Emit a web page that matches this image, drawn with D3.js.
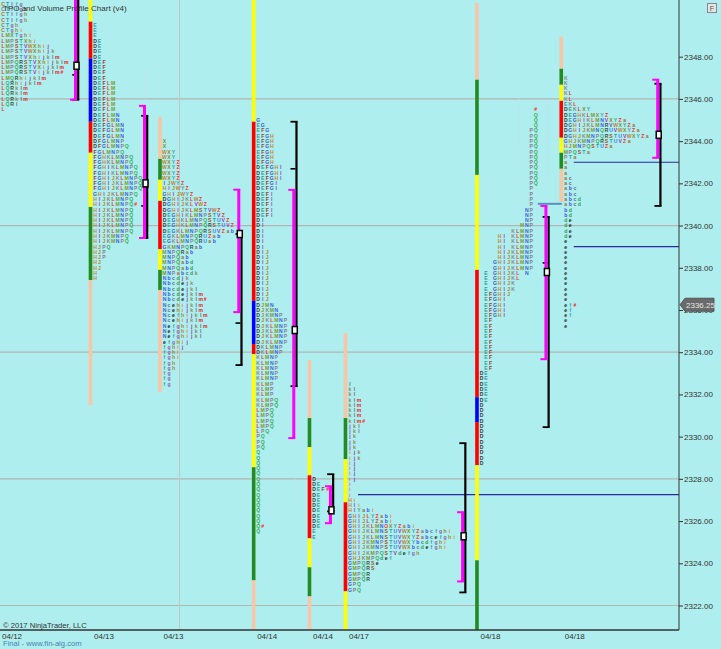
<!DOCTYPE html>
<html><head><meta charset="utf-8">
<script src="https://cdn.jsdelivr.net/npm/d3@7/dist/d3.min.js"></script>
<style>
html,body{margin:0;padding:0;background:#afeeee;}
svg{display:block;}
</style></head><body>
<svg id="chart" width="721" height="649"></svg>
<script>
// ---------------- DATA ----------------
const chartTitle = "TPO and Volume Profile Chart (v4)";
const priceTicks = [2322,2324,2326,2328,2330,2332,2334,2336,2338,2340,2342,2344,2346,2348];
const gridPrices = [2346,2340,2334,2328,2322];
const sessionDates = ["04/12","04/13","04/13","04/14","04/14","04/17","04/18","04/18"];
const sessionStartBar = [-0.33,19.99,35.34,56.04,68.37,76.32,105.37,123.99];
const sessionEndBar   = [16.68,31.92,52.75,64.90,73.00,102.20,120.60,145.30];
const timeGridBars = [39.65];
const lastPrice = 2336.25;

const profileTop = [2350.5,2349.5,2344.0,2345.0,2328.0,2332.5,2345.5,2347.0];

const tpoA = ["CTIfg","CTIfgh","CTIfgh","CTIfgh","CTgh","CTghi","LMXTghi","LMPSTXhi","LMPSTVWXhij","LMPSTVWXhijk","LMPSTVXhijklm","LMPQRSTVXhijklm","LMPQRSTVXijklm","LMPQRSTVijklm#","LMQRhijklm","LQRhijklm","LQRklm","LQRklm","LQRklm","LQRl","L"];
const tpoB = ["E","E","E","DE","DE","DE","DE","DEF","DEF","DEF","DEF","DEFLM","DEFLM","DEFLM","DEFLM","DEFLM","DEFLM","DEFLMN","DEFLMN","DEFGLMN","DEFGLMN","DEFGLMN","DFGLMNP","DFGLMNPQ","FGLMNPQ","FGHKLMNPQ","FGHKLMNPQ","FGHIKLMNPQ","FGHIKLMNPQ","FGHIJKLMNPQ","FGHIJKLMNPQ","FGHIJKLMNPQ","GHIJKLMNPQ","HIJKLMNPQ","HIJKLMNPQ#","HIJKLMNPQ","HIJKLMNPQ","HIJKLMNPQ","HIJKLMNPQ","HIJKLMNPQ","HIJKMNPQ","HIJKMNPQ","HJPQ","HJP","HJP","HJ","HJ","H","H"];
const tpoC = ["X","X","WXY","WXY","WXYZ","WXYZ","WXYZ","WXYZ","IJWYZ","HIJWYZ","GHIJWYZ","DGHIJKLWZ","DGHIJKLVWZ","DGHIJKLMSTVWZ","DEGHIKLMNPSTVZ","DEGHKLMNPQSTUVZ","DEGHKLMNPQRSTUVZ","DEGKLMNPQRSUVZab","EGKLMNPQRUZab","EGKLMNPQRUab","GKMNPQRab","MNPQRab","MNPQab","MNPQabd","MNPQabd","MNPabcdk","Nbcdjk","Nbcdejk","Nbcdejkl","Nbcdejklm","Nbcdejklm#","Ncehijklm","Ncehijklm","Ncefhijklm","Ncehijklm","Nefghijklm","Nefghijkl","Nefghijkl","efghij","fghij","fghi","fghi","fgh","fgh","fg","fg","fg"];
const tpoD = ["G","EG","EFG","EFGH","EFGH","EFGH","EFGH","EFGH","EFGH","DEFGHI","DEFGHI","DEFGHI","DEFGI","DEFGI","DEFI","DEFI","DEFI","DEFI","DEFI","DI","DI","DI","DI","DI","DI","DIJ","DIJ","DIJ","DIJ","DIJ","DIJ","DIJ","DIJ","DIJ","DIJ","DJMN","DJKMN","DJKMNP","DJKLMNP","DJKLMNP","DJKLMNP","DJKLMNP","DJKLMNP","DKLMNP","DKLMNP","KLMNP","KLMNP","KLMNP","KLMNP","KLMNP","KLMP","KLMP","KLMP","KLMPQ","KLMPQ","LMPQ","LMPQ","LMPQ","LMPQ","LPQ","PQ","PQ","PQ","Q","Q","Q","Q","Q","Q","Q","Q","Q","Q","Q","Q","Q","Q","Q#","Q"];
const tpoE = ["D","DE","DEF#","DE","DE","DE","DE","DE","DE","DE","E","E"];
const tpoF = ["l","kl","kl","klm","klm","klm","klm","klm#","jkl","jkl","jk","jk","jk","ijk","ijk","ij","ij","ij","ij","i","i","i","Hi","HIi","HIYabi","GHIJLYZabi","GHIJLYZabi","GHIJKLMNOXYZabi","GHIJKLMNSTUVWXYZabcfghi","GHIJKLMNSTUVWXYZabcefghi","GHIJKMNPSTUVWXYbcdfghi","GHIJKMNPSTUVWXbcdefghi","GHIJKMPQSTVdefgh","GHJKMPQdef","GMPQRSe","GMPQRS","GMPQR","GMPQR","GPQ","GPQ"];
const tpoG = ["            #","            Q","            Q","            Q","           PQ","           PQ","           PQ","           PQ","           PQ","           PQ","           PQ","           PQ","           PQ","           PQ","           PQ","           P","           P","           P","           P","          NP","          NP","          NP","         MNP","       KLMNP","    HI KLMNP","    HI KLMNP","    HI KLMNP","    HIJKLMNP","    HIJKLMNP","   GHIJKLMNP","   GHIJKLMNP"," E GHIJKL N"," E GHIJKL"," E GHIJK"," E GHIJK"," EFGHIJ"," EFGHI"," EFGHI"," EFGHI"," EFGHI"," EF"," EF"," EF"," EF"," EF"," EF"," EF"," EF"," EF"," EF","DE","DE","DE","DE","DE","DE","D","D","D","D","D","D","D","D","D","D","D","D"];
const tpoH = ["K","K","K","KL","KL","EKL","DEKLXY","DEGHKLMXYZ","DEGHIKLMNVXYZa","DGHIJKLMNRVWXYZa","DGHIJKMNQRUVWXYZa","DGHJKMNPQRSTUVWXYZa","GHJKMNPQRSTUVZa","HJMNPQSTUZa","MPQSTa","PTa","a","a","a","ac","ac","abc","abc","abcd","abcd","bd","bd","de","de","de","de","e","e","e","e","e","e","e","e","e","e","e","e","ef#","ef","ef","e","e"];

// period bars: price boundaries (top to bottom) and segment colours
const barBounds = [
  null,
  [2350.7,2349.66,2347.91,2344.92,2343.45,2340.88,2337.42,2331.49],
  [2345.15,2343.16,2342.17,2341.17,2338.89,2337.90,2336.95,2332.11],
  [2350.7,2344.92,2336.43,2334.39,2333.91,2328.55,2323.19,2320.8],
  [2333.63,2330.88,2329.50,2328.17,2325.18,2323.81,2322.43,2320.8],
  [2334.91,2330.88,2328.93,2326.89,2322.67,2320.8],
  [2350.56,2346.91,2342.40,2337.90,2331.87,2330.69,2328.65,2324.14,2320.8],
  [2348.95,2347.43,2346.67,2345.91,2344.16,2343.45,2342.69,2341.12]
];
const barColors = [
  null,
  ["Y","R","B","R","Y","G","P"],
  ["P","G","Y","R","Y","G","P"],
  ["Y","R","B","R","Y","G","P"],
  ["P","G","Y","R","Y","G","P"],
  ["P","G","Y","R","Y"],
  ["P","G","Y","R","B","R","Y","G"],
  ["P","G","Y","R","Y","G","P"]
];

const vaHigh    = [2351.0,2345.67,2341.70,2341.69,2327.65,2326.42,2340.93,2346.91];
const vaLow     = [2345.96,2339.41,2335.90,2329.93,2325.90,2323.14,2333.67,2343.21];
const rangeHigh = [2351.0,2345.20,2339.60,2344.92,2328.22,2329.69,2340.41,2346.72];
const rangeLow  = [2345.96,2339.41,2333.39,2332.39,2326.46,2322.62,2330.45,2340.93];
const pocPrice  = [2347.57,2342.0,2339.60,2335.05,2326.51,2325.28,2337.80,2344.30];
const midTicks  = [[2347.14],[2340.93],[2335.38],[2342.69],[],[],[2338.23],[]];

const nakedPocSession = [5,7,7];
const nakedPocPrice   = [2327.25,2343.0,2339.0];

// faint volume-profile hairlines: [sessionIndex, priceTop, priceBottom]
const hairSession = [1,6,6,7,7,4,5];
const hairTop     = [2347.4,2346.1,2331.9,2345.9,2345.9,2328.1,2331.8];
const hairBottom  = [2345.9,2343.9,2331.2,2342.1,2342.1,2326.9,2331.1];
const hairOffsetBar = [12.2,9.4,-2.7,-4.8,-3.2,-3.2,19.1];

// ---------------- STYLE ----------------
const W = 721, H = 649, plotR = 679, plotB = 630;
const periodColor = {Y:"#ffff00",R:"#ff0000",B:"#0000ff",G:"#228b22",P:"#f8c6a6"};
const letterColor = {
 C:"#b07040",D:"#3a3a3a",E:"#2e9e9e",F:"#9a3a2a",G:"#3f5fc0",H:"#c8843c",I:"#8a4fb0",J:"#a88a20",K:"#8a8a8a",
 L:"#e03a3a",M:"#7a9a2a",N:"#3a62e0",O:"#e04040",P:"#8a7a9a",Q:"#3cb060",R:"#3a5050",S:"#a05020",T:"#2aa0a0",
 U:"#3a80e0",V:"#9a3ac8",W:"#c0803a",X:"#8a8a20",Y:"#4a9aa0",Z:"#f03030",
 a:"#9a7030",b:"#3050f0",c:"#5a6a8a",d:"#2e9a50",e:"#1e1e1e",f:"#3aa0a0",g:"#9060b0",h:"#9a8a30",i:"#e08040",
 j:"#8040c0",k:"#8a8a5a",l:"#6a6a6a",m:"#e02020","#":"#ff2020"
};

// ---------------- SCALES ----------------
const y = d3.scaleLinear().domain([2322,2348]).range([605.5,56.7]);
const x = d3.scaleLinear().domain([0,150]).range([0,plotR]);
const colW = x(1)-x(0);

const svg = d3.select("#chart");
svg.append("rect").attr("width",W).attr("height",H).attr("fill","#afeeee");
svg.append("defs").append("clipPath").attr("id","plot")
  .append("rect").attr("x",0).attr("y",0).attr("width",plotR).attr("height",plotB);
const g = svg.append("g").attr("clip-path","url(#plot)");

// grid
g.selectAll("line.hg").data(gridPrices).join("line").attr("class","hg")
 .attr("x1",0).attr("x2",plotR).attr("y1",d=>y(d)).attr("y2",d=>y(d))
 .attr("stroke","#b4b4b4").attr("stroke-width",1.2);
g.selectAll("line.vg").data(timeGridBars).join("line").attr("class","vg")
 .attr("x1",d=>x(d)).attr("x2",d=>x(d)).attr("y1",0).attr("y2",plotB)
 .attr("stroke","#c4c4c4").attr("stroke-width",1);

// faint hairlines
hairSession.forEach((s,i)=>{
  const hx = x(sessionStartBar[s] + hairOffsetBar[i]);
  g.append("line").attr("x1",hx).attr("x2",hx).attr("y1",y(hairTop[i])).attr("y2",y(hairBottom[i]))
   .attr("stroke","#c8dcf4").attr("stroke-width",1).attr("stroke-dasharray","1,1");
});

// naked POC lines
nakedPocPrice.forEach((p,i)=>{
  const s = nakedPocSession[i];
  g.append("line").attr("x1",x(sessionStartBar[s])+12.5).attr("x2",plotR)
   .attr("y1",y(p)).attr("y2",y(p)).attr("stroke","#2a2aa0").attr("stroke-width",1.2);
});
// separator line between last sessions
g.append("line").attr("x1",x(118.8)).attr("x2",x(124.1))
 .attr("y1",y(2341.03)).attr("y2",y(2341.03)).attr("stroke","#5a90c0").attr("stroke-width",2);

// period bars
barBounds.forEach((b,k)=>{
  if(!b) return;
  const cx = x(sessionStartBar[k]);
  for(let i=0;i<b.length-1;i++){
    g.append("rect").attr("x",cx-1.8).attr("width",3.6)
     .attr("y",y(b[i])).attr("height",y(b[i+1])-y(b[i]))
     .attr("fill",periodColor[barColors[k][i]]);
  }
});

// TPO letters
const tpos = [tpoA,tpoB,tpoC,tpoD,tpoE,tpoF,tpoG,tpoH];
const lettersG = g.append("g").attr("font-family","Liberation Sans, Arial, sans-serif")
  .attr("font-weight","bold").attr("font-size","5.1px").attr("text-anchor","middle");
tpos.forEach((rows,k)=>{
  const x0 = x(sessionStartBar[k]) + 2.4;
  rows.forEach((row,i)=>{
    const py = y(profileTop[k] - i*0.25);
    [...row].forEach((ch,j)=>{
      if(ch===" ") return;
      lettersG.append("text").attr("x",x0 + j*colW + 2.1).attr("y",py+1.85)
        .attr("fill",letterColor[ch]||"#444").text(ch);
    });
  });
});

// brackets
sessionEndBar.forEach((eb,k)=>{
  const xm = x(eb);
  // black range bracket
  const xb = xm + 2.7;
  g.append("line").attr("x1",xb).attr("x2",xb).attr("y1",y(rangeHigh[k])).attr("y2",y(rangeLow[k]))
   .attr("stroke","#000").attr("stroke-width",2.2);
  [rangeHigh[k],rangeLow[k]].forEach(p=>{
    g.append("line").attr("x1",xb-6).attr("x2",xb+1.1).attr("y1",y(p)).attr("y2",y(p))
     .attr("stroke","#000").attr("stroke-width",1.8);
  });
  midTicks[k].forEach(p=>{
    g.append("line").attr("x1",xb-6).attr("x2",xb-1).attr("y1",y(p)).attr("y2",y(p))
     .attr("stroke","#000").attr("stroke-width",1.6);
  });
  // magenta value area bracket
  g.append("line").attr("x1",xm).attr("x2",xm).attr("y1",y(vaHigh[k])).attr("y2",y(vaLow[k]))
   .attr("stroke","#ff00ff").attr("stroke-width",3);
  [vaHigh[k],vaLow[k]].forEach(p=>{
    g.append("line").attr("x1",xm-5.5).attr("x2",xm+1.5).attr("y1",y(p)).attr("y2",y(p))
     .attr("stroke","#ff00ff").attr("stroke-width",2);
  });
  // POC box
  g.append("rect").attr("x",xm-1.5).attr("y",y(pocPrice[k])-3.5).attr("width",5).attr("height",7)
   .attr("fill","#ffffff").attr("stroke","#000").attr("stroke-width",1.5);
});

// axes
const axR = svg.append("g").attr("transform",`translate(${plotR},0)`)
  .call(d3.axisRight(y).tickValues(priceTicks).tickFormat(d3.format(".2f")).tickSize(4).tickPadding(1));
axR.select(".domain").attr("d",`M0,0V${plotB}`).attr("stroke","#333");
axR.selectAll(".tick line").attr("stroke","#333");
axR.selectAll(".tick text").attr("font-family","Liberation Sans, Arial, sans-serif").attr("font-size","8px").attr("fill","#333");

const axB = svg.append("g").attr("transform",`translate(0,${plotB})`)
  .call(d3.axisBottom(x).tickValues(sessionStartBar).tickFormat((d,i)=>sessionDates[i]).tickSize(0).tickPadding(3));
axB.select(".domain").attr("d",`M0,0H${plotR}`).attr("stroke","#333").attr("stroke-width",1.5);
axB.selectAll(".tick text").attr("text-anchor","start").attr("dx",3)
  .attr("font-family","Liberation Sans, Arial, sans-serif").attr("font-size","8px").attr("fill","#333");

// last price marker
const lp = y(lastPrice);
svg.append("path").attr("d",`M${plotR+1},${lp} L${plotR+6},${lp-6.5} H714 V${lp+6.5} H${plotR+6} Z`)
  .attr("fill","#6a6a6a").attr("stroke","#444").attr("stroke-width",0.8);
svg.append("text").attr("x",686).attr("y",lp+3).attr("font-family","Liberation Sans, Arial, sans-serif")
  .attr("font-size","8px").attr("fill","#e6e6e6").text(d3.format(".2f")(lastPrice));

// F box
svg.append("rect").attr("x",707.5).attr("y",3.5).attr("width",9).attr("height",9).attr("fill","#e4e4e4").attr("stroke","#888");
svg.append("text").attr("x",712).attr("y",11).attr("text-anchor","middle").attr("font-family","Liberation Sans, Arial, sans-serif")
  .attr("font-size","7px").attr("fill","#555").text("F");

// texts
svg.append("text").attr("x",3).attr("y",11).attr("font-family","Liberation Sans, Arial, sans-serif")
  .attr("font-size","8px").attr("fill","#333").text(chartTitle);
svg.append("text").attr("x",3).attr("y",628).attr("font-family","Liberation Sans, Arial, sans-serif")
  .attr("font-size","7.6px").attr("fill","#333").text("© 2017 NinjaTrader, LLC");
svg.append("text").attr("x",3).attr("y",646).attr("font-family","Liberation Sans, Arial, sans-serif")
  .attr("font-size","7.6px").attr("fill","#4682b4").text("Final - www.fin-alg.com");
</script>
</body></html>
